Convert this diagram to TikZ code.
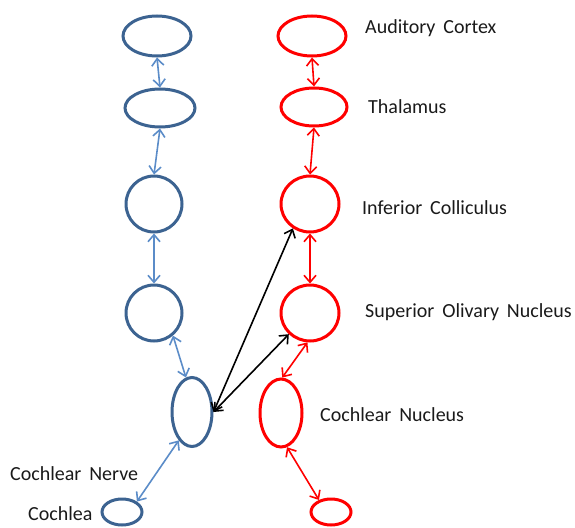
\documentclass[tikz,border=0pt]{standalone}
\usepackage{fontspec}
\setmainfont{Carlito}
\usetikzlibrary{shapes.geometric,arrows.meta}
\definecolor{nblue}{HTML}{3C6391}
\definecolor{ablue}{HTML}{5B8CC8}
\definecolor{nred}{HTML}{FF0000}
\definecolor{ink}{HTML}{1A1A1A}
\tikzset{
  bnode/.style={ellipse, draw=nblue, line width=3pt, inner sep=0pt},
  rnode/.style={ellipse, draw=nred, line width=3pt, inner sep=0pt},
  link/.style={line width=1.6pt, {Straight Barb[length=7pt,width=12pt]}-{Straight Barb[length=7pt,width=12pt]}},
  blink/.style={link, draw=ablue},
  rlink/.style={link, draw=nred},
  klink/.style={link, draw=black},
  lbl/.style={anchor=base west, inner sep=0pt, text=ink, font=\fontsize{20}{23}\selectfont}
}
\begin{document}
\begin{tikzpicture}[x=1pt, y=-1pt]
\useasboundingbox (0,0) rectangle (575,527);
% left pathway (blue)
\node[bnode, minimum width=68pt, minimum height=40pt] (b1) at (157,36) {};
\node[bnode, minimum width=70pt, minimum height=38pt] (b2) at (160,108) {};
\node[bnode, minimum width=56pt, minimum height=56pt] (b3) at (154,204) {};
\node[bnode, minimum width=56pt, minimum height=56pt] (b4) at (154,313) {};
\node[bnode, minimum width=40pt, minimum height=69pt] (b5) at (192,412) {};
\node[bnode, minimum width=40pt, minimum height=26pt] (b6) at (122,512) {};
% right pathway (red)
\node[rnode, minimum width=68pt, minimum height=40pt] (r1) at (312,36) {};
\node[rnode, minimum width=66pt, minimum height=38pt] (r2) at (314,107) {};
\node[rnode, minimum width=58pt, minimum height=56pt] (r3) at (310,204) {};
\node[rnode, minimum width=58pt, minimum height=56pt] (r4) at (310,313) {};
\node[rnode, minimum width=42pt, minimum height=68pt] (r5) at (281,413) {};
\node[rnode, minimum width=40pt, minimum height=26pt] (r6) at (331,512) {};
% labels
\node[lbl] (tac) at (365,34) {Auditory\, Cortex};
\node[lbl] (tth) at (368,113) {Thalamus};
\node[lbl] (tic) at (362,214) {Inferior\, Colliculus};
\node[lbl] (tso) at (365,317) {Superior\, Olivary\, Nucleus};
\node[lbl] (tcn) at (320,421) {Cochlear\, Nucleus};
\node[lbl] (tnv) at (10,480) {Cochlear\, Nerve};
\node[lbl] (tco) at (28,520) {Cochlea};
% blue connections
\draw[blink] (b1.south) -- (b2.north);
\draw[blink] (b2.south) -- (b3.north);
\draw[blink] (b3.south) -- (b4.north);
\draw[blink] (b4.-50) -- (b5.100);
\draw[blink] (b5.-115) -- (b6.35);
% red connections
\draw[rlink] (r1.south) -- (r2.north);
\draw[rlink] (r2.south) -- (r3.north);
\draw[rlink] (r3.south) -- (r4.north);
\draw[rlink] (r4.-95) -- (r5.88);
\draw[rlink] (r5.-80) -- (r6.135);
% crossing connections
\draw[klink] (b5.0) -- (r3.-125);
\draw[klink] (b5.0) -- (r4.-135);
\end{tikzpicture}
\end{document}
